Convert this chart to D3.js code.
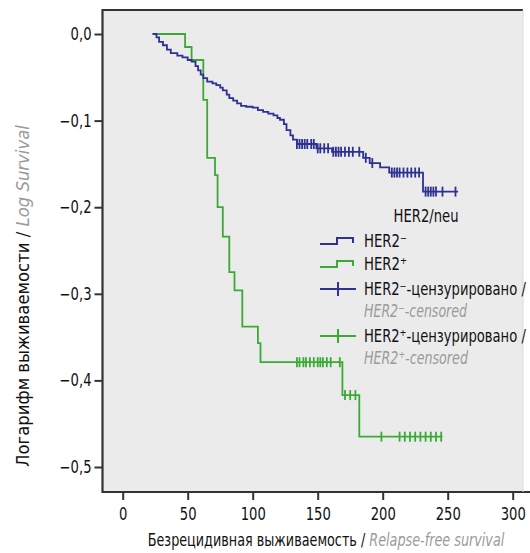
<!DOCTYPE html>
<html>
<head>
<meta charset="utf-8">
<script src="https://cdn.jsdelivr.net/npm/d3@7"></script>
<style>
  html, body { margin: 0; padding: 0; background: #ffffff; }
  svg text { font-family: "DejaVu Sans Condensed", "Liberation Sans Narrow", "Open Sans", sans-serif; font-stretch: condensed; }
</style>
</head>
<body>
<svg id="chart" width="530" height="553"></svg>
<script>
// ---- data ----
const xTicks = [0, 50, 100, 150, 200, 250, 300];
const yTicks = [0, -0.1, -0.2, -0.3, -0.4, -0.5];
const yTickLabels = ["0,0", "\u22120,1", "\u22120,2", "\u22120,3", "\u22120,4", "\u22120,5"];

// HER2− : step points [time, log survival]
const her2NegSteps = [
  [23, 0], [26, -0.004], [28, -0.009], [31, -0.013], [34, -0.018], [37, -0.022],
  [42, -0.025], [46, -0.027], [50, -0.030], [53, -0.032], [56, -0.037], [58, -0.042],
  [60, -0.047], [62, -0.051], [65, -0.055], [69, -0.057], [72, -0.059], [75, -0.062],
  [77, -0.065], [80, -0.070], [82, -0.074], [85, -0.077], [88, -0.080], [91, -0.083],
  [95, -0.084], [100, -0.085], [104, -0.088], [108, -0.090], [112, -0.092], [116, -0.094],
  [119, -0.097], [121, -0.099], [124, -0.104], [126, -0.111], [129, -0.117], [131, -0.122],
  [134, -0.127], [149, -0.132], [161, -0.136], [185, -0.143], [190, -0.149], [198, -0.154],
  [205, -0.160], [231, -0.182]
];
const her2NegEnd = 258;
const her2NegCensored = [134, 136, 138, 140, 142, 145, 147, 150, 152, 155, 158,
  162, 164, 166, 168, 171, 174, 177, 182, 187, 192, 207, 209, 211, 213, 216, 219, 222,
  225, 228, 233, 235, 237, 239, 241, 246, 256];

// HER2+ : step points
const her2PosSteps = [
  [23, 0], [48, -0.015], [53, -0.030], [62, -0.076], [65, -0.143], [71, -0.163],
  [73, -0.200], [77, -0.234], [82, -0.275], [86, -0.296], [92, -0.338], [104, -0.357],
  [106, -0.379], [169, -0.417], [182, -0.465]
];
const her2PosEnd = 246;
const her2PosCensored = [134, 136, 139, 141, 144, 147, 150, 152, 154, 157, 160, 167,
  171, 175, 179, 199, 213, 217, 221, 225, 229, 233, 237, 241, 245];

const colNeg = "#2e3192";
const colPos = "#3aaa35";

// ---- layout ----
const svg = d3.select("#chart");
const frame = { left: 102.5, top: 10, right: 523, bottom: 492 };
const x = d3.scaleLinear().domain([0, 300]).range([122.7, 512.7]);
const y = d3.scaleLinear().domain([0, -0.5]).range([34, 467]);

// text placed in a horizontally scaled group, so it fits a given width
function fittedText(parent, tx, ty, extra, width, anchor, size, build) {
  const g = parent.append("g");
  const t = g.append("text").attr("text-anchor", anchor).attr("font-size", size);
  build(t);
  const n = t.node().getComputedTextLength();
  const sx = width / n;
  g.attr("transform", `translate(${tx},${ty}) ${extra} scale(${sx},1)`);
  return t;
}

// plot background
svg.append("rect")
  .attr("x", frame.left).attr("y", frame.top)
  .attr("width", frame.right - frame.left).attr("height", frame.bottom - frame.top)
  .attr("fill", "#ebebeb");

// axes
const tickSX = 0.86;
const yAxis = d3.axisLeft(y).tickValues(yTicks).tickSize(8).tickFormat((d, i) => yTickLabels[i]);
const gy = svg.append("g").attr("transform", `translate(${frame.left},0)`).call(yAxis);
gy.select(".domain").remove();
gy.selectAll(".tick line").attr("stroke", "#333").attr("stroke-width", 2);
gy.selectAll(".tick text").attr("font-size", 17).attr("fill", "#111")
  .attr("x", -11 / tickSX).attr("transform", `scale(${tickSX},1)`);

const xAxis = d3.axisBottom(x).tickValues(xTicks).tickSize(8).tickFormat(d3.format("d"));
const gx = svg.append("g").attr("transform", `translate(0,${frame.bottom})`).call(xAxis);
gx.select(".domain").remove();
gx.selectAll(".tick line").attr("stroke", "#333").attr("stroke-width", 2);
gx.selectAll(".tick text").attr("font-size", 17).attr("fill", "#111").attr("y", 16)
  .attr("transform", `scale(${tickSX},1)`);

// frame lines
svg.append("path")
  .attr("d", `M${frame.right},${frame.top} H${frame.left} V${frame.bottom} H530`)
  .attr("fill", "none").attr("stroke", "#333").attr("stroke-width", 2.2);
svg.append("line")
  .attr("x1", frame.right).attr("x2", frame.right).attr("y1", frame.top).attr("y2", frame.bottom)
  .attr("stroke", "#dcdcdc").attr("stroke-width", 1);

// curves
const line = d3.line().x(d => x(d[0])).y(d => y(d[1])).curve(d3.curveStepAfter);
function survAt(steps, t) {
  let v = steps[0][1];
  for (const s of steps) { if (s[0] <= t) v = s[1]; }
  return v;
}
function drawCurve(steps, end, cens, col) {
  const pts = steps.concat([[end, steps[steps.length - 1][1]]]);
  svg.append("path").attr("d", line(pts)).attr("fill", "none")
    .attr("stroke", col).attr("stroke-width", 1.8);
  svg.append("g").selectAll("line").data(cens).join("line")
    .attr("x1", d => x(d)).attr("x2", d => x(d))
    .attr("y1", d => y(survAt(steps, d)) - 5).attr("y2", d => y(survAt(steps, d)) + 5)
    .attr("stroke", col).attr("stroke-width", 1.8);
}
drawCurve(her2PosSteps, her2PosEnd, her2PosCensored, colPos);
drawCurve(her2NegSteps, her2NegEnd, her2NegCensored, colNeg);

// axis titles
fittedText(svg, 326, 546, "", 357, "middle", 17, t => {
  t.append("tspan").attr("fill", "#111").text("Безрецидивная выживаемость / ");
  t.append("tspan").attr("fill", "#9a9a9a").attr("font-style", "italic").text("Relapse-free survival");
});
fittedText(svg, 29, 296, "rotate(-90)", 342, "middle", 18, t => {
  t.append("tspan").attr("fill", "#111").text("Логарифм выживаемости / ");
  t.append("tspan").attr("fill", "#9a9a9a").attr("font-style", "italic").text("Log Survival");
});

// legend
const lg = svg.append("g");
fittedText(lg, 426, 222, "", 65, "middle", 17, t => t.attr("fill", "#111").text("HER2/neu"));
const legendItems = [
  { type: "step", col: colNeg, y: 241, lines: ["HER2\u207B"], w: [43] },
  { type: "step", col: colPos, y: 264, lines: ["HER2\u207A"], w: [43] },
  { type: "cross", col: colNeg, y: 289, lines: ["HER2\u207B-цензурировано /", "HER2\u207B-censored"], w: [162, 103] },
  { type: "cross", col: colPos, y: 336, lines: ["HER2\u207A-цензурировано /", "HER2\u207A-censored"], w: [162, 104] }
];
legendItems.forEach(it => {
  if (it.type === "step") {
    lg.append("path").attr("d", `M320,${it.y + 3} H337 V${it.y - 3} H353 V${it.y + 2}`)
      .attr("fill", "none").attr("stroke", it.col).attr("stroke-width", 2);
  } else {
    lg.append("line").attr("x1", 320).attr("x2", 356).attr("y1", it.y).attr("y2", it.y)
      .attr("stroke", it.col).attr("stroke-width", 2);
    lg.append("line").attr("x1", 338).attr("x2", 338).attr("y1", it.y - 7).attr("y2", it.y + 7)
      .attr("stroke", it.col).attr("stroke-width", 2);
  }
  fittedText(lg, 364, it.y + 6, "", it.w[0], "start", 17, t => t.attr("fill", "#111").text(it.lines[0]));
  if (it.lines[1]) {
    fittedText(lg, 364, it.y + 28, "", it.w[1], "start", 17,
      t => t.attr("fill", "#9a9a9a").attr("font-style", "italic").text(it.lines[1]));
  }
});
</script>
</body>
</html>
